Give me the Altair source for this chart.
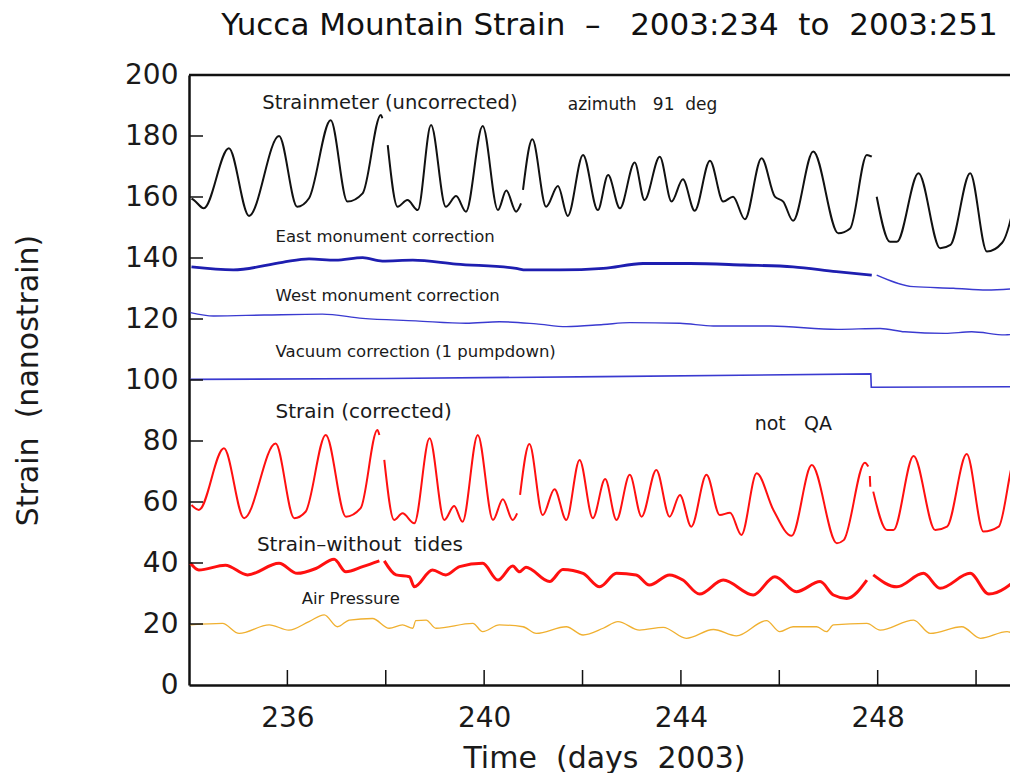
import altair as alt
import pandas as pd

# ---------------- data ----------------
# Strainmeter (uncorrected)
RAW_DAY = [234.05, 234.10, 234.30, 234.81, 235.22, 235.83, 236.20, 236.44, 236.88, 237.22, 237.53, 237.90, 237.93,
           238.04, 238.24, 238.44, 238.65, 238.92, 239.22, 239.43, 239.63, 239.97, 240.28, 240.45, 240.65, 240.75,
           240.79, 240.98, 241.26, 241.50, 241.70, 242.01, 242.31, 242.52, 242.76, 243.06, 243.26, 243.57, 243.81,
           244.04, 244.28, 244.59, 244.86, 245.06, 245.30, 245.64, 245.91, 246.08, 246.28, 246.69, 247.20, 247.44,
           247.78, 247.88,
           247.98, 248.25, 248.39, 248.83, 249.27, 249.48, 249.88, 250.22, 250.53, 250.90]
RAW_VAL = [159.5, 159.0, 156.3, 176.0, 153.8, 180.0, 156.8, 159.6, 185.2, 158.5, 161.2, 186.9, 185.8,
           177.0, 156.8, 159.0, 155.7, 183.6, 156.8, 160.3, 155.2, 183.3, 155.7, 162.1, 155.2, 157.9,
           162.3, 178.9, 156.8, 163.6, 153.8, 173.8, 155.7, 167.2, 156.3, 171.3, 159.0, 173.2, 158.5,
           165.8, 155.5, 171.9, 158.5, 160.1, 152.7, 172.7, 160.1, 158.5, 152.2, 174.9, 148.1, 149.7,
           173.8, 173.2,
           160.1, 145.3, 145.3, 167.8, 143.2, 144.3, 167.8, 142.1, 145.0, 167.8]
RAW_SEG = [0] * 13 + [1] * 13 + [2] * 28 + [3] * 10

# East monument correction
EAST_DAY = [234.05, 234.90, 235.90, 236.44, 236.98, 237.53, 237.93, 238.55, 239.43, 240.65, 240.85, 241.53,
            242.42, 243.23, 244.18, 245.27, 246.28, 247.16, 247.88,
            247.98, 248.73, 249.54, 250.22, 250.90]
EAST_VAL = [137.1, 136.1, 138.6, 139.7, 139.3, 140.1, 139.0, 139.3, 138.0, 136.6, 136.1, 136.1,
            136.6, 138.2, 138.2, 137.7, 137.1, 135.5, 134.4,
            134.4, 130.6, 130.1, 129.5, 130.1]
EAST_SEG = [0] * 19 + [1] * 5

# West monument correction
WEST_DAY = [234.03, 234.50, 235.53, 236.71, 237.53, 238.61, 239.63, 240.31, 241.06, 241.67, 242.42, 242.96,
            243.98, 244.66, 245.82, 247.18, 248.05, 248.55, 249.37, 249.91, 250.59, 250.90]
WEST_VAL = [122.1, 121.0, 121.3, 121.6, 120.2, 119.4, 118.6, 119.1, 118.4, 117.5, 118.2, 118.8,
            118.6, 117.7, 117.7, 116.6, 116.9, 115.8, 115.3, 115.8, 114.8, 115.5]

# Vacuum correction (1 pumpdown)
VAC_DAY = [234.03, 238.00, 242.40, 247.86, 247.87, 250.90]
VAC_VAL = [100.2, 100.5, 101.1, 102.0, 97.6, 97.8]

# Strain (corrected)
COR_DAY = [234.05, 234.20, 234.71, 235.12, 235.76, 236.14, 236.37, 236.78, 237.19, 237.49, 237.83, 237.87,
           237.97, 238.17, 238.34, 238.58, 238.89, 239.19, 239.39, 239.56, 239.87, 240.18, 240.38, 240.58, 240.67,
           240.73, 240.92, 241.19, 241.43, 241.67, 241.94, 242.21, 242.46, 242.69, 242.96, 243.20, 243.50, 243.77,
           243.98, 244.21, 244.52, 244.79, 245.00, 245.23, 245.54, 245.88, 246.25, 246.66, 247.17, 247.31, 247.74,
           247.81,
           247.84, 247.85,
           247.91, 248.19, 248.32, 248.73, 249.17, 249.41, 249.81, 250.15, 250.46, 250.80, 250.93]
COR_VAL = [59.0, 57.4, 77.6, 54.7, 79.2, 54.7, 56.8, 82.0, 55.2, 58.0, 83.6, 82.0,
           73.8, 54.1, 56.3, 53.0, 80.9, 54.1, 58.7, 53.5, 82.0, 54.1, 60.9, 54.1, 56.3,
           62.3, 79.0, 55.7, 64.2, 54.1, 73.8, 54.7, 67.5, 54.1, 68.9, 55.2, 70.5, 55.2,
           62.3, 51.9, 68.9, 55.7, 56.5, 49.2, 69.4, 57.4, 48.9, 72.1, 46.5, 47.5, 72.9,
           71.6,
           68.5, 65.0,
           63.4, 50.8, 50.8, 75.1, 50.8, 51.9, 75.7, 50.3, 51.9, 74.3, 70.5]
COR_SEG = [0] * 12 + [1] * 13 + [2] * 27 + [3] * 2 + [4] * 11

# Strain-without tides
NT_DAY = [234.03, 234.20, 234.74, 235.19, 235.83, 236.20, 236.58, 236.95, 237.19, 237.53, 237.87,
          237.97, 238.21, 238.48, 238.58, 238.95, 239.22, 239.50, 239.97, 240.28, 240.58, 240.72, 240.85,
          241.33, 241.60, 242.01, 242.35, 242.69, 243.09, 243.36, 243.77, 244.04, 244.38, 244.86, 245.47,
          245.91, 246.35, 246.83, 247.10, 247.37, 247.78,
          247.91, 248.39, 248.93, 249.27, 249.88, 250.26, 250.93]
NT_VAL = [39.9, 37.7, 39.3, 36.1, 39.9, 36.6, 38.2, 41.2, 37.1, 38.8, 40.7,
          40.7, 36.1, 35.5, 32.2, 37.7, 36.1, 38.8, 39.9, 34.4, 39.0, 37.1, 38.6,
          33.9, 37.9, 36.6, 32.2, 36.6, 36.1, 32.8, 36.1, 34.4, 29.8, 34.4, 29.5,
          35.5, 30.6, 33.9, 29.5, 28.4, 34.4,
          36.1, 32.2, 36.6, 31.7, 36.6, 29.8, 36.1]
NT_SEG = [0] * 11 + [1] * 30 + [2] * 7

# Air Pressure
AIR_DAY = [234.03, 234.68, 235.02, 235.63, 236.03, 236.44, 236.75, 237.02, 237.26, 237.73, 238.07, 238.34,
           238.55, 238.61, 238.82, 239.02, 239.77, 239.97, 240.31, 240.79, 241.06, 241.67, 242.01, 242.42,
           242.72, 243.16, 243.64, 244.11, 244.66, 245.13, 245.74, 246.01, 246.28, 246.76, 246.96, 247.10,
           247.78, 248.05, 248.73, 249.07, 249.71, 250.09, 250.63, 250.93]
AIR_VAL = [19.7, 20.2, 16.9, 19.7, 18.0, 20.8, 23.0, 19.1, 21.3, 21.8, 18.6, 19.7,
           18.6, 21.1, 21.3, 18.6, 20.2, 17.5, 19.7, 19.1, 16.9, 19.1, 16.4, 18.6,
           20.8, 18.0, 18.9, 15.3, 18.2, 16.1, 21.1, 17.5, 19.1, 19.1, 17.5, 19.7,
           20.2, 18.0, 21.3, 16.9, 19.1, 15.3, 17.5, 14.8]

# Axis ticks / labels
X_TICKS = [236, 238, 240, 242, 244, 246, 248, 250]
X_LABELS = [236, 240, 244, 248]
Y_TICKS = [20, 40, 60, 80, 100, 120, 140, 160, 180]
Y_LABELS = [0, 20, 40, 60, 80, 100, 120, 140, 160, 180, 200]

NB = "\u00a0"
# In-plot annotations
ANNO_TEXT = ["Strainmeter (uncorrected)", "azimuth" + NB * 3 + "91" + NB * 2 + "deg", "East monument correction",
             "West monument correction", "Vacuum correction (1 pumpdown)", "Strain (corrected)",
             "not" + NB * 3 + "QA", "Strain\u2013without" + NB * 2 + "tides", "Air Pressure"]
ANNO_DAY = [235.49, 241.70, 235.76, 235.76, 235.76, 235.76, 245.50, 235.38, 236.29]
ANNO_VAL = [190.9, 190.2, 146.9, 127.5, 109.2, 89.5, 85.6, 45.9, 28.2]
ANNO_SIZE = [19.5, 17, 16.5, 16.5, 16.5, 20, 19, 20, 16.5]

TITLE = ("Yucca Mountain Strain" + NB * 2 + "\u2013" + NB * 2 + " 2003:234" + NB + " to" + NB + " 2003:251")
X_TITLE = "Time" + NB * 2 + "(days" + NB * 2 + "2003)"
Y_TITLE = "Strain" + NB * 2 + "(nanostrain)"

# ---------------- chart ----------------
FONT = "DejaVu Sans"
W, H = 821, 610
XMIN, XMAX = 234.0, 250.69

xscale = alt.Scale(domain=[XMIN, XMAX], nice=False, zero=False)
yscale = alt.Scale(domain=[0, 200], nice=False)

xaxis = alt.Axis(values=X_LABELS, format="d", ticks=False, grid=False, labelPadding=33,
                 labelBaseline="middle", title=X_TITLE, titleX=415, titleY=73,
                 titleBaseline="middle", titleAlign="center", titleFontSize=30)
yaxis = alt.Axis(values=Y_LABELS, format="d", ticks=False, grid=False, labelPadding=11,
                 title=Y_TITLE, titleX=-161, titleY=305, titleAngle=270,
                 titleBaseline="middle", titleAlign="center", titleFontSize=30)

X = alt.X("day:Q", scale=xscale, axis=xaxis)
Y = alt.Y("val:Q", scale=yscale, axis=yaxis)


def frame(days, vals, segs=None):
    if segs is None:
        segs = [0] * len(days)
    return pd.DataFrame({"day": days, "val": vals, "seg": segs})


def line(df, color, width, interp="monotone"):
    return alt.Chart(df).mark_line(color=color, strokeWidth=width, interpolate=interp, clip=True).encode(
        x=X, y=Y, detail="seg:N")


east = frame(EAST_DAY, EAST_VAL, EAST_SEG)

layers = [
    line(frame(AIR_DAY, AIR_VAL), "#f0b030", 1.3),
    line(frame(NT_DAY, NT_VAL, NT_SEG), "#ff1010", 3.0),
    line(frame(COR_DAY, COR_VAL, COR_SEG), "#ff1010", 2.0),
    line(frame(VAC_DAY, VAC_VAL), "#3a3ad0", 1.6, "linear"),
    line(frame(WEST_DAY, WEST_VAL), "#3a3ad0", 1.4),
    line(east[east.seg == 0], "#1e1eb0", 2.8),
    line(east[east.seg == 1], "#3a3ad0", 1.4),
    line(frame(RAW_DAY, RAW_VAL, RAW_SEG), "#111111", 2.0),
]

xt = pd.DataFrame({"day": X_TICKS})
yt = pd.DataFrame({"val": Y_TICKS})
top = pd.DataFrame({"val": [200]})

xtick_layer = alt.Chart(xt).mark_rule(color="#111", strokeWidth=1.5).encode(
    x=X, y=alt.value(H), y2=alt.value(H - 15))
ytick_layer = alt.Chart(yt).mark_rule(color="#111", strokeWidth=1.5).encode(
    y=Y, x=alt.value(0), x2=alt.value(14))
top_layer = alt.Chart(top).mark_rule(color="#111", strokeWidth=2.5).encode(
    y=Y, x=alt.value(0), x2=alt.value(W))

anno = pd.DataFrame({"txt": ANNO_TEXT, "day": ANNO_DAY, "val": ANNO_VAL, "fs": ANNO_SIZE})
anno_layer = alt.Chart(anno).mark_text(align="left", baseline="middle", font=FONT, color="#1a1a1a").encode(
    x=X, y=Y, text="txt:N", size=alt.Size("fs:Q", scale=None, legend=None))

chart = alt.layer(*layers, xtick_layer, ytick_layer, top_layer, anno_layer).properties(
    width=W, height=H,
    background="white",
    title=alt.TitleParams(text=TITLE, font=FONT, fontSize=31,
                          fontWeight="normal", color="#111", anchor="middle", frame="group",
                          baseline="alphabetic", offset=1, dx=10, dy=6),
    padding={"left": 181, "top": 67, "right": 0, "bottom": 88},
    autosize=alt.AutoSizeParams(type="none"),
).configure_view(stroke=None).configure_axis(
    domainColor="#111", domainWidth=2.5, labelFont=FONT, labelFontSize=28, labelColor="#1a1a1a",
    titleFont=FONT, titleFontSize=30, titleFontWeight="normal", titleColor="#1a1a1a"
)

chart.save("out.html", embed_options={"renderer": "svg", "actions": False})
